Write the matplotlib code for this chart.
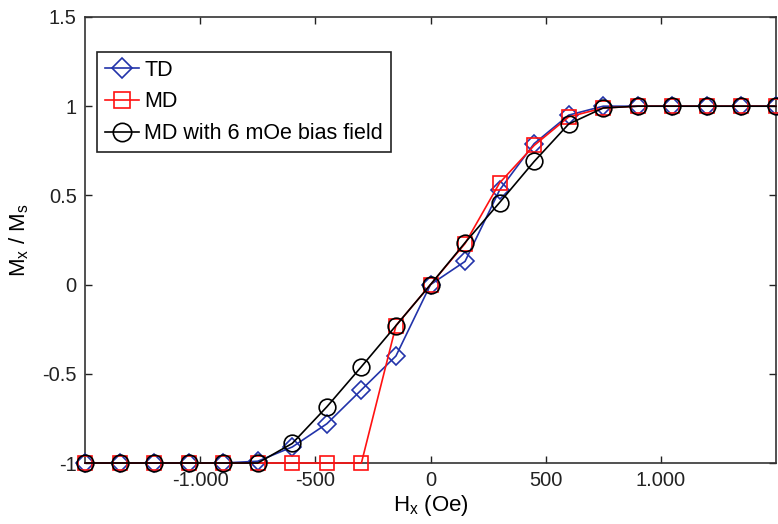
import matplotlib
matplotlib.use("Agg")
import matplotlib.pyplot as plt
from matplotlib.ticker import FuncFormatter

plt.rcParams['font.family'] = ['Liberation Sans', 'DejaVu Sans']
plt.rcParams['mathtext.fontset'] = 'custom'
plt.rcParams['mathtext.rm'] = 'Liberation Sans'
plt.rcParams['mathtext.it'] = 'Liberation Sans'

hx = [-1500, -1350, -1200, -1050, -900, -750, -600, -450, -300, -150, 0,
      150, 300, 450, 600, 750, 900, 1050, 1200, 1350, 1500]
td = [-1, -1, -1, -1, -1, -0.99, -0.91, -0.78, -0.59, -0.40, 0.0,
      0.13, 0.53, 0.79, 0.95, 1.0, 1.0, 1.0, 1.0, 1.0, 1.0]
md = [-1, -1, -1, -1, -1, -1, -1, -1, -1, -0.23, 0.0,
      0.23, 0.57, 0.78, 0.94, 0.99, 1.0, 1.0, 1.0, 1.0, 1.0]
md_bias = [-1, -1, -1, -1, -1, -1, -0.89, -0.685, -0.46, -0.23, 0.0,
           0.235, 0.46, 0.69, 0.90, 0.99, 1.0, 1.0, 1.0, 1.0, 1.0]

labels = ['TD', 'MD', 'MD with 6 mOe bias field']
xticks = [-1000, -500, 0, 500, 1000]
yticks = [-1, -0.5, 0, 0.5, 1, 1.5]

fig = plt.figure(figsize=(7.78, 5.24), dpi=100)
ax = fig.add_axes([0.1093, 0.1164, 0.8881, 0.8512])

ax.plot(hx, td, color='#2233aa', marker='D', markersize=9, markerfacecolor='none',
        markeredgewidth=1.2, linewidth=1.2, label=labels[0], clip_on=False, zorder=3)
ax.plot(hx, md, color='#ff1111', marker='s', markersize=10, markerfacecolor='none',
        markeredgewidth=1.2, linewidth=1.2, label=labels[1], clip_on=False, zorder=4)
ax.plot(hx, md_bias, color='black', marker='o', markersize=12, markerfacecolor='none',
        markeredgewidth=1.2, linewidth=1.2, label=labels[2], clip_on=False, zorder=5)

ax.set_xlim(-1500, 1500)
ax.set_ylim(-1, 1.5)
ax.set_xticks(xticks)
ax.set_yticks(yticks)

def xfmt(v, pos):
    return f"{int(v):,}".replace(',', '.')
def yfmt(v, pos):
    return f"{v:g}"
ax.xaxis.set_major_formatter(FuncFormatter(xfmt))
ax.yaxis.set_major_formatter(FuncFormatter(yfmt))

ax.tick_params(direction='in', top=True, right=True, length=5, width=1,
               labelsize=14.5, colors='#222222', pad=6)
for sp in ax.spines.values():
    sp.set_linewidth(1.2)
    sp.set_color('#333333')

ax.set_xlabel(r'H$_\mathregular{x}$ (Oe)', fontsize=16, labelpad=2)
ax.set_ylabel(r'M$_\mathregular{x}$ / M$_\mathregular{s}$', fontsize=16, labelpad=8)

leg = ax.legend(loc='upper left', bbox_to_anchor=(0.0174, 0.9215), fontsize=15.5,
                frameon=True, fancybox=False, edgecolor='#222222', framealpha=1,
                handlelength=1.6, handletextpad=0.25, borderpad=0.35, labelspacing=0.5,
                borderaxespad=0, markerscale=1.1)
leg.get_frame().set_linewidth(1.2)

fig.savefig('out.png', dpi=100)
